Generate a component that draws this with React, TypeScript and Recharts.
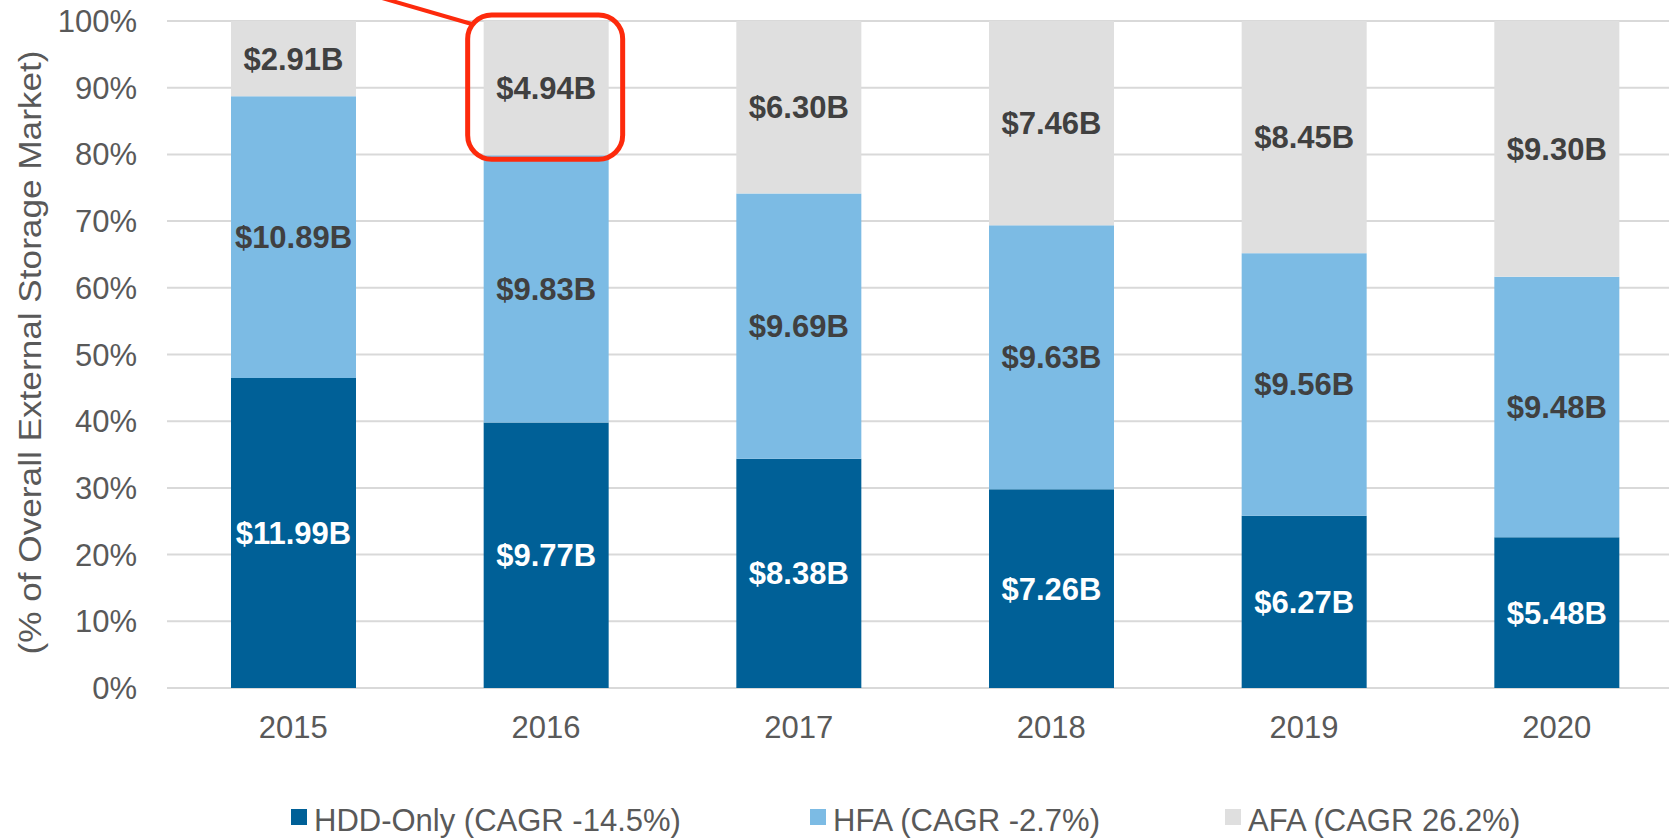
import React from 'react';
import { BarChart, Bar, XAxis, YAxis, CartesianGrid, LabelList } from 'recharts';

const years = ['2015', '2016', '2017', '2018', '2019', '2020'];
const hddOnly = [11.99, 9.77, 8.38, 7.26, 6.27, 5.48];
const hfa = [10.89, 9.83, 9.69, 9.63, 9.56, 9.48];
const afa = [2.91, 4.94, 6.3, 7.46, 8.45, 9.3];
const yTicks = [0, 0.1, 0.2, 0.3, 0.4, 0.5, 0.6, 0.7, 0.8, 0.9, 1];
const highlightYear = '2016';

const seriesNames = ['HDD-Only (CAGR -14.5%)', 'HFA (CAGR -2.7%)', 'AFA (CAGR 26.2%)'];
const colors = ['#006097', '#7cbbe4', '#dfdfdf'];

const data = years.map((year, i) => ({ year, hdd: hddOnly[i], hfa: hfa[i], afa: afa[i] }));

const FONT = '"Liberation Sans", Arial, sans-serif';
const RED = '#fd2a0c';
const FS = 31;

const money = (v: any) => `$${Number(v).toFixed(2)}B`;

// AFA segment, with the red callout around the highlighted year
const AfaShape = (props: any) => {
  const { x, y, width, height, fill, payload } = props;
  const hl = payload && payload.year === highlightYear;
  return (
    <g>
      <rect x={x} y={y} width={width} height={height} fill={fill} />
      {hl && (
        <g>
          <line x1={x - 12} y1={y + 3} x2={x - 112} y2={y - 26} stroke={RED} strokeWidth={4} />
          <rect
            x={x - 16}
            y={y - 6}
            width={width + 30}
            height={height + 10}
            rx={24}
            ry={24}
            fill="none"
            stroke={RED}
            strokeWidth={5}
          />
        </g>
      )}
    </g>
  );
};

const YTitle = (props: any) => {
  const vb = props.viewBox || {};
  const cy = vb.y + vb.height / 2 - 2;
  const cx = 41;
  return (
    <text
      x={cx}
      y={cy}
      transform={`rotate(-90, ${cx}, ${cy})`}
      textAnchor="middle"
      fill="#595959"
      fontSize={FS}
      fontFamily={FONT}
      textLength={604}
      lengthAdjust="spacingAndGlyphs"
    >
      (% of Overall External Storage Market)
    </text>
  );
};

const legendLeft = [291, 810, 1225];

export default function App() {
  return (
    <div
      style={{
        position: 'absolute',
        left: 0,
        top: 0,
        width: 1669,
        height: 838,
        overflow: 'hidden',
        background: '#fff',
        fontFamily: FONT,
      }}
    >
      <BarChart
        width={1683}
        height={838}
        data={data}
        stackOffset="expand"
        margin={{ top: 21, right: 0, bottom: 0, left: 0 }}
      >
        <CartesianGrid vertical={false} stroke="#d9d9d9" strokeWidth={2} />
        <XAxis
          dataKey="year"
          height={150}
          axisLine={false}
          tickLine={false}
          tickSize={0}
          tickMargin={28}
          tick={{ fill: '#595959', fontSize: FS, fontFamily: FONT }}
        />
        <YAxis
          width={167}
          domain={[0, 1]}
          ticks={yTicks}
          axisLine={false}
          tickLine={false}
          tickSize={0}
          tickMargin={30}
          tickFormatter={(v: number) => `${Math.round(v * 100)}%`}
          tick={{ fill: '#595959', fontSize: FS, fontFamily: FONT }}
          label={<YTitle />}
        />
        <Bar dataKey="hdd" stackId="a" fill={colors[0]} barSize={125} isAnimationActive={false}>
          <LabelList
            dataKey="hdd"
            position="center"
            formatter={money}
            fill="#ffffff"
            fontSize={FS}
            fontWeight="bold"
            fontFamily={FONT}
          />
        </Bar>
        <Bar dataKey="hfa" stackId="a" fill={colors[1]} barSize={125} isAnimationActive={false}>
          <LabelList
            dataKey="hfa"
            position="center"
            formatter={money}
            fill="#404040"
            fontSize={FS}
            fontWeight="bold"
            fontFamily={FONT}
          />
        </Bar>
        <Bar
          dataKey="afa"
          stackId="a"
          fill={colors[2]}
          barSize={125}
          shape={<AfaShape />}
          isAnimationActive={false}
        >
          <LabelList
            dataKey="afa"
            position="center"
            formatter={money}
            fill="#404040"
            fontSize={FS}
            fontWeight="bold"
            fontFamily={FONT}
          />
        </Bar>
      </BarChart>
      {seriesNames.map((name, i) => (
        <div
          key={name}
          style={{
            position: 'absolute',
            left: legendLeft[i],
            top: 805,
            height: 31,
            display: 'flex',
            alignItems: 'flex-start',
            whiteSpace: 'nowrap',
          }}
        >
          <span
            style={{
              display: 'inline-block',
              width: 16,
              height: 16,
              marginTop: 4,
              marginRight: 7,
              background: colors[i],
            }}
          />
          <span style={{ fontSize: FS, lineHeight: '31px', color: '#595959' }}>{name}</span>
        </div>
      ))}
    </div>
  );
}
